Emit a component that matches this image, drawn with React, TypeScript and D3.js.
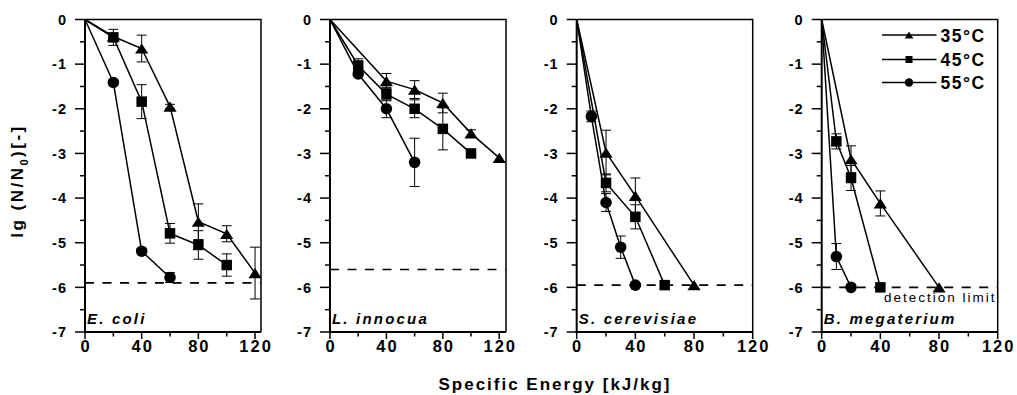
import * as d3 from "d3";
import React, { useEffect, useRef } from "react";

const svgWidth = 1017;
const svgHeight = 395;

// one panel per organism, three temperatures in each
const organisms = ["E. coli", "L. innocua", "S. cerevisiae", "B. megaterium"];
const temperatures = ["35°C", "45°C", "55°C"];
const detectionLimit = [-5.9, -5.6, -5.95, -6.0];
const xTicks = [0, 40, 80, 120];
const xMinorTicks = [20, 60, 100];
const yTicks = [0, -1, -2, -3, -4, -5, -6, -7];
const yMinorTicks = [-0.5, -1.5, -2.5, -3.5, -4.5, -5.5, -6.5];

// [specific energy kJ/kg, lg(N/N0), error]
const ecoli35 = [[0, 0, 0], [20, -0.38, 0], [40, -0.65, 0.3], [60, -1.95, 0.05], [80, -4.53, 0.4], [100, -4.8, 0.18], [120, -5.68, 0.58]];
const ecoli45 = [[0, 0, 0], [20, -0.4, 0.18], [40, -1.84, 0.38], [60, -4.79, 0.22], [80, -5.05, 0.32], [100, -5.5, 0.25]];
const ecoli55 = [[0, 0, 0], [20, -1.41, 0.04], [40, -5.19, 0.06], [60, -5.78, 0.11]];

const listeria35 = [[0, 0, 0], [40, -1.38, 0.17], [60, -1.57, 0.2], [80, -1.87, 0.22], [100, -2.55, 0.08], [120, -3.1, 0]];
const listeria45 = [[0, 0, 0], [20, -1.03, 0.15], [40, -1.67, 0.15], [60, -2.0, 0.2], [80, -2.45, 0.47], [100, -3.0, 0.04]];
const listeria55 = [[0, 0, 0], [20, -1.22, 0.05], [40, -2.0, 0.2], [60, -3.2, 0.54]];

const yeast35 = [[0, 0, 0], [20, -2.98, 0.5], [40, -3.95, 0.4], [80, -5.95, 0]];
const yeast45 = [[0, 0, 0], [20, -3.66, 0.2], [40, -4.42, 0.27], [60, -5.95, 0]];
const yeast55 = [[0, 0, 0], [10, -2.17, 0.12], [20, -4.1, 0.2], [30, -5.1, 0.25], [40, -5.95, 0]];

const bacillus35 = [[0, 0, 0], [20, -3.13, 0.3], [40, -4.12, 0.28], [80, -6.0, 0]];
const bacillus45 = [[0, 0, 0], [10, -2.73, 0.17], [20, -3.55, 0.28], [40, -6.0, 0]];
const bacillus55 = [[0, 0, 0], [10, -5.31, 0.29], [20, -6.0, 0]];

const panelSeries = [
  [ecoli35, ecoli45, ecoli55],
  [listeria35, listeria45, listeria55],
  [yeast35, yeast45, yeast55],
  [bacillus35, bacillus45, bacillus55],
];

// layout of the four frames
const panelLeft = [85, 330, 576.7, 821.7];
const panelW = 176;
const panelTop = 19.5;
const panelBottom = 332;
const xMax = [124.2, 124.8, 120, 120];

const font = "Arial, 'Liberation Sans', sans-serif";

function markerPath(kind, size) {
  const h = size / 2;
  if (kind === 0) {
    // up triangle, box centered
    return `M0,${-h * 0.85}L${h * 1.1},${h * 0.85}L${-h * 1.1},${h * 0.85}Z`;
  }
  if (kind === 1) {
    return `M${-h},${-h}H${h}V${h}H${-h}Z`;
  }
  return d3.symbol().type(d3.symbolCircle).size(Math.PI * h * h * 1.1)();
}

export default function App() {
  const svgRef = useRef(null);

  useEffect(() => {
    const svgEl = d3.select(svgRef.current);
    svgEl.selectAll("*").remove();

    const yScale = d3.scaleLinear().domain([-7, 0]).range([panelBottom, panelTop]);

    organisms.forEach((name, p) => {
      const left = panelLeft[p];
      const xScale = d3.scaleLinear().domain([0, xMax[p]]).range([left, left + panelW]);
      const g = svgEl.append("g");

      // frame top + right
      g.append("path")
        .attr("d", `M${left},${panelTop}H${left + panelW}V${panelBottom}`)
        .attr("fill", "none")
        .attr("stroke", "#000")
        .attr("stroke-width", 1.5);

      // detection limit
      g.append("line")
        .attr("x1", left)
        .attr("x2", left + panelW)
        .attr("y1", yScale(detectionLimit[p]))
        .attr("y2", yScale(detectionLimit[p]))
        .attr("stroke", "#000")
        .attr("stroke-width", 1.6)
        .attr("stroke-dasharray", "9,8.5");

      // y axis
      const yAxis = g.append("g");
      yAxis.append("line")
        .attr("x1", left).attr("x2", left)
        .attr("y1", panelTop).attr("y2", panelBottom + 1)
        .attr("stroke", "#000").attr("stroke-width", 2);
      yAxis.selectAll("line.major")
        .data(yTicks)
        .join("line")
        .attr("class", "major")
        .attr("x1", left - 10).attr("x2", left)
        .attr("y1", (d) => yScale(d)).attr("y2", (d) => yScale(d))
        .attr("stroke", "#000").attr("stroke-width", 1.5);
      yAxis.selectAll("line.minor")
        .data(yMinorTicks)
        .join("line")
        .attr("class", "minor")
        .attr("x1", left - 5).attr("x2", left)
        .attr("y1", (d) => yScale(d)).attr("y2", (d) => yScale(d))
        .attr("stroke", "#000").attr("stroke-width", 1.5);
      yAxis.selectAll("text")
        .data(yTicks)
        .join("text")
        .attr("x", left - 18)
        .attr("y", (d) => yScale(d))
        .attr("dy", "0.36em")
        .attr("text-anchor", "end")
        .style("font-family", font)
        .style("font-weight", "bold")
        .style("font-size", "14.5px")
        .style("letter-spacing", "1px")
        .text((d) => d);

      // x axis
      const xAxis = g.append("g");
      xAxis.append("line")
        .attr("x1", left - 1).attr("x2", left + panelW)
        .attr("y1", panelBottom).attr("y2", panelBottom)
        .attr("stroke", "#000").attr("stroke-width", 2);
      xAxis.selectAll("line.major")
        .data(xTicks)
        .join("line")
        .attr("class", "major")
        .attr("x1", (d) => xScale(d)).attr("x2", (d) => xScale(d))
        .attr("y1", panelBottom).attr("y2", panelBottom + 7)
        .attr("stroke", "#000").attr("stroke-width", 1.5);
      xAxis.selectAll("line.minor")
        .data(xMinorTicks)
        .join("line")
        .attr("class", "minor")
        .attr("x1", (d) => xScale(d)).attr("x2", (d) => xScale(d))
        .attr("y1", panelBottom).attr("y2", panelBottom + 4.5)
        .attr("stroke", "#000").attr("stroke-width", 1.5);
      xAxis.selectAll("text")
        .data(xTicks)
        .join("text")
        .attr("x", (d) => xScale(d) + 1)
        .attr("y", 352)
        .attr("text-anchor", "middle")
        .style("font-family", font)
        .style("font-weight", "bold")
        .style("font-size", "16.5px")
        .style("letter-spacing", "2px")
        .text((d) => d);

      // organism name
      g.append("text")
        .attr("x", left + 2)
        .attr("y", 324)
        .style("font-family", font)
        .style("font-weight", "bold")
        .style("font-style", "italic")
        .style("font-size", "15px")
        .style("letter-spacing", "2.2px")
        .text(name);

      const line = d3.line().x((d) => xScale(d[0])).y((d) => yScale(d[1]));

      panelSeries[p].forEach((series) => {
        g.append("path")
          .datum(series)
          .attr("d", line)
          .attr("fill", "none")
          .attr("stroke", "#000")
          .attr("stroke-width", 1.5);
      });

      panelSeries[p].forEach((series) => {
        const bars = series.filter((d) => d[2] > 0);
        const eb = g.append("g").attr("stroke", "#000").attr("stroke-width", 1);
        eb.selectAll("path")
          .data(bars)
          .join("path")
          .attr("fill", "none")
          .attr("d", (d) => {
            const x = xScale(d[0]);
            const y1 = yScale(d[1] + d[2]);
            const y2 = yScale(d[1] - d[2]);
            return `M${x - 5},${y1}H${x + 5}M${x},${y1}V${y2}M${x - 5},${y2}H${x + 5}`;
          });
      });

      panelSeries[p].forEach((series, s) => {
        g.append("g")
          .selectAll("path")
          .data(series.filter((d) => d[0] > 0))
          .join("path")
          .attr("d", markerPath(s, s === 0 ? 12 : s === 1 ? 10.5 : 11))
          .attr("transform", (d) => `translate(${xScale(d[0])},${yScale(d[1])})`)
          .attr("fill", "#000");
      });
    });

    // legend in last panel
    const legend = svgEl.append("g");
    const legendY = [35, 59.5, 82.5];
    temperatures.forEach((t, s) => {
      const y = legendY[s];
      legend.append("line")
        .attr("x1", 882).attr("x2", 936.5)
        .attr("y1", y).attr("y2", y)
        .attr("stroke", "#000").attr("stroke-width", 1.5);
      legend.append("path")
        .attr("d", markerPath(s, s === 0 ? 8 : s === 1 ? 7 : 8))
        .attr("transform", `translate(909,${y})`)
        .attr("fill", "#000");
      legend.append("text")
        .attr("x", 940.5)
        .attr("y", y + 6.5)
        .style("font-family", font)
        .style("font-weight", "bold")
        .style("font-size", "17.5px")
        .style("letter-spacing", "1.5px")
        .text(t);
    });

    svgEl.append("text")
      .attr("x", 884)
      .attr("y", 302)
      .style("font-family", font)
      .style("font-size", "13.5px")
      .style("letter-spacing", "2px")
      .text("detection limit");

    // axis titles
    const yTitle = svgEl.append("text")
      .attr("transform", "translate(23,181) rotate(-90)")
      .attr("text-anchor", "middle")
      .style("font-family", font)
      .style("font-weight", "bold")
      .style("font-size", "17px")
      .style("letter-spacing", "2.5px");
    yTitle.append("tspan").text("lg (N/N");
    yTitle.append("tspan").attr("dy", 5).style("font-size", "11px").text("0");
    yTitle.append("tspan").attr("dy", -5).text(")[-]");

    svgEl.append("text")
      .attr("x", 555)
      .attr("y", 390)
      .attr("text-anchor", "middle")
      .style("font-family", font)
      .style("font-weight", "bold")
      .style("font-size", "17px")
      .style("letter-spacing", "2px")
      .text("Specific Energy [kJ/kg]");
  });

  return (
    <svg
      ref={svgRef}
      width={svgWidth}
      height={svgHeight}
      style={{ position: "absolute", left: 0, top: 0, background: "#fff" }}
    ></svg>
  );
}
